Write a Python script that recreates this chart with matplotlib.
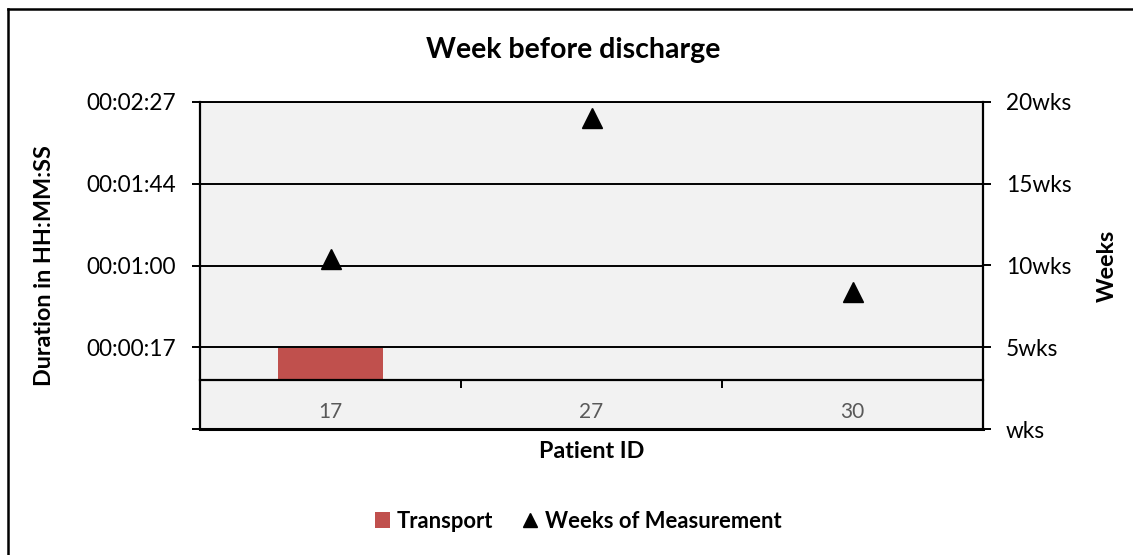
import matplotlib
matplotlib.use("Agg")
import matplotlib.pyplot as plt
from matplotlib.ticker import FuncFormatter, FixedLocator
from matplotlib.lines import Line2D

plt.rcParams['font.family'] = ['Lato', 'DejaVu Sans']

# Data
patients = ["17", "27", "30"]
transport_sec = [17, 0, 0]                 # transport duration, seconds
weeks_of_measurement = [10.4, 19.0, 8.4]   # weeks

# Axis scales (left in seconds, right in weeks)
time_ticks_sec = [-25.92, 17.28, 60.48, 103.68, 146.88]
week_ticks = [0, 5, 10, 15, 20]

W, H = 1133, 555
fig = plt.figure(figsize=(W / 100, H / 100), dpi=100)
fig.patch.set_facecolor("white")

ax = fig.add_axes([200 / W, 1 - 429.3 / H, 783 / W, 327.6 / H])
ax.set_facecolor("#F2F2F2")

x = list(range(len(patients)))
bars = ax.bar(x, transport_sec, width=0.4, color="#C0504D", zorder=2,
              label="Transport")

ax.set_xlim(-0.5, len(patients) - 0.5)
ax.set_ylim(time_ticks_sec[0], time_ticks_sec[-1])

def hms(v, pos=None):
    if v < 0:
        return ""
    s = int(round(v))
    return f"{s // 3600:02d}:{(s % 3600) // 60:02d}:{s % 60:02d}"

ax.yaxis.set_major_locator(FixedLocator(time_ticks_sec))
ax.yaxis.set_major_formatter(FuncFormatter(hms))
for t in time_ticks_sec[1:]:
    ax.axhline(t, color="black", lw=1.4, zorder=1)

# category axis crosses at zero
ax.spines["bottom"].set_position(("data", 0))
ax.axhline(time_ticks_sec[0], color="black", lw=2.2, zorder=3, clip_on=False)
ax.xaxis.set_major_locator(FixedLocator([0.5, 1.5]))
ax.xaxis.set_major_formatter(FuncFormatter(lambda v, p: ""))
ax.xaxis.set_minor_locator(FixedLocator(x))
ax.xaxis.set_minor_formatter(FuncFormatter(lambda v, p: patients[int(round(v))]))
ax.tick_params(axis="x", which="major", direction="out", length=6, width=1.4,
               color="black")
ax.tick_params(axis="x", which="minor", length=0, pad=16, labelsize=15,
               labelcolor="#595959")
ax.tick_params(axis="y", direction="out", length=5.5, width=1.4, pad=12,
               labelsize=16.3, labelcolor="black")

for side in ["left", "right", "top", "bottom"]:
    ax.spines[side].set_color("black")
    ax.spines[side].set_linewidth(1.6)
ax.spines["top"].set_linewidth(1.4)

# secondary axis: weeks
ax2 = ax.twinx()
ax2.set_ylim(week_ticks[0], week_ticks[-1])
ax2.yaxis.set_major_locator(FixedLocator(week_ticks))
ax2.yaxis.set_major_formatter(
    FuncFormatter(lambda v, p: ("" if v == 0 else f"{int(v)}") + "wks"))
ax2.tick_params(axis="y", direction="out", length=5.5, width=1.4, pad=11,
                labelsize=16.3, labelcolor="black")
for side in ["left", "right", "top", "bottom"]:
    ax2.spines[side].set_visible(False)
ax2.plot(x, weeks_of_measurement, linestyle="none", marker="^",
         markersize=14.5, color="black", zorder=4,
         label="Weeks of Measurement")

# titles and axis labels
fig.text(573 / W, 1 - 50 / H, "Week before discharge", ha="center",
         va="center", fontsize=20.5, fontweight="bold")
ax.set_ylabel("Duration in HH:MM:SS", fontsize=16.8, fontweight="bold")
ax.yaxis.set_label_coords((55 - 200) / 783, 0.5)
ax2.set_ylabel("Weeks", fontsize=16.8, fontweight="bold", rotation=90)
ax2.yaxis.set_label_coords((1097 - 200) / 783, 0.5)
ax.set_xlabel("Patient ID", fontsize=16.8, fontweight="bold")
ax.xaxis.set_label_coords(0.5, (429.3 - 452) / 327.6)
ax.xaxis.label.set_va("center")

# legend
handles = [bars.patches[0],
           Line2D([], [], linestyle="none", marker="^", markersize=10,
                  color="black")]
fig.legend(handles, ["Transport", "Weeks of Measurement"], loc="center",
           bbox_to_anchor=(578 / W, 1 - 521 / H), ncol=2, frameon=False,
           prop={"weight": "bold", "size": 15.8}, handlelength=0.7,
           handleheight=0.7, handletextpad=0.3, columnspacing=1.35)

# outer frame
fig.add_artist(Line2D([7.5 / W, 7.5 / W], [0, 1 - 9 / H], color="black",
                      lw=1.8, transform=fig.transFigure))
fig.add_artist(Line2D([7.5 / W, 1], [1 - 9 / H, 1 - 9 / H], color="black",
                      lw=1.8, transform=fig.transFigure))

fig.savefig("out.png", dpi=100)
